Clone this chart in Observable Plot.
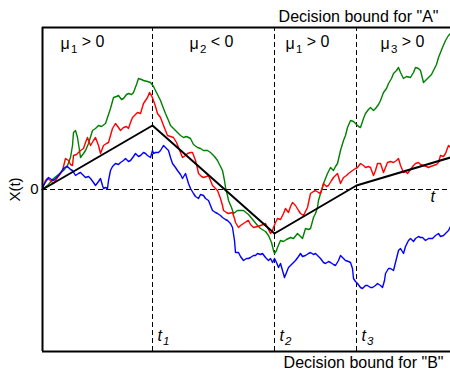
<!DOCTYPE html>
<html>
<head>
<meta charset="utf-8">
<script src="https://cdn.jsdelivr.net/npm/d3@7"></script>
<script src="https://cdn.jsdelivr.net/npm/@observablehq/plot@0.6"></script>
<style>
  html, body { margin: 0; padding: 0; background: #fff; }
  #chart { width: 450px; height: 370px; }
</style>
</head>
<body>
<div id="chart"></div>
<script>
// ---- data (time in arbitrary units, X(t) in arbitrary units) ----
const greenT = [0,2,6,11,16,21,25,28,30,31,33,35,37,38,41,43,46,50,53,56,59,63,66,68,71,74,76,79,81,84,86,89,91,94,96,99,101,105,108,111,113,116,118,121,123,126,128,131,135,138,141,144,148,151,155,158,161,165,168,172,175,178,180,182,183,185,186,189,191,195,201,206,211,215,218,223,226,229,231,232,234,235,238,241,244,248,251,255,258,260,263,266,268,271,273,275,276,278,280,281,283,285,288,291,293,295,298,301,303,305,308,311,313,316,318,321,323,326,328,331,333,336,338,341,344,346,349,351,354,356,358,361,364,368,371,373,376,378,380,381,384,386,389,391,394,396,398,400,403,406,408];
const greenX = [0,2,5,11,15,19,24,32,44,57,59,52,39,32,36,39,46,59,61,64,63,66,75,81,92,93,94,90,91,95,96,95,97,105,111,110,109,108,107,103,99,93,89,81,76,69,64,61,57,54,52,53,51,45,42,41,39,39,37,33,29,23,19,9,2,-6,-11,-18,-24,-21,-21,-25,-31,-36,-39,-42,-46,-53,-61,-64,-61,-58,-51,-52,-50,-48,-49,-44,-47,-49,-39,-40,-39,-28,-24,-18,-11,-4,2,6,11,16,22,19,23,26,39,49,54,62,69,68,66,63,62,71,76,80,82,79,81,85,89,97,101,106,111,116,119,122,117,111,113,112,117,122,121,119,111,107,110,112,115,119,125,132,137,142,149,154,156];

const redT = [0,1,3,5,8,11,13,15,18,20,22,23,26,28,30,31,34,36,38,41,43,45,48,51,53,56,58,61,64,66,68,70,73,76,78,81,84,86,88,90,93,95,98,101,103,105,107,109,111,113,115,118,121,123,125,128,131,134,136,138,140,143,145,148,150,153,155,156,159,161,164,166,168,170,173,175,178,180,181,184,186,190,192,193,196,198,201,204,206,208,211,215,218,221,223,226,228,230,231,233,235,238,241,243,246,248,250,253,256,258,261,263,265,268,271,273,276,278,281,284,286,289,291,295,298,301,304,306,310,313,315,318,321,323,326,328,331,333,335,338,341,343,345,348,351,354,356,358,361,363,365,368,371,373,376,378,381,384,386,388,391,394,396,398,401,403,406,408];
const redX = [0,4,9,11,9,6,9,12,16,19,27,31,29,25,24,34,35,37,39,41,47,52,44,49,52,44,36,44,46,47,54,61,66,62,59,62,63,61,67,72,75,77,76,86,89,92,97,94,89,83,76,72,64,59,54,53,52,47,42,37,32,34,36,37,37,29,21,16,13,12,13,14,9,4,1,-1,-9,-16,-21,-23,-24,-23,-29,-33,-38,-36,-34,-32,-31,-35,-38,-37,-36,-35,-34,-40,-44,-41,-38,-33,-29,-30,-24,-19,-23,-17,-13,-16,-21,-24,-26,-22,-18,-4,-2,-1,-3,-4,6,3,4,9,12,16,6,12,14,16,19,21,22,26,24,22,23,22,14,19,26,26,17,22,27,28,27,29,31,24,17,18,16,20,24,26,27,25,24,23,22,23,24,25,27,34,33,36,44,42];

const blueT = [0,1,4,6,9,11,14,16,19,21,24,26,28,30,33,36,38,41,43,46,48,51,53,56,58,60,61,63,65,66,68,70,73,76,78,81,83,86,88,91,93,96,98,101,103,105,108,110,111,113,116,118,121,123,126,128,130,133,135,138,140,143,146,148,151,153,156,158,161,163,166,168,170,173,175,178,180,183,185,188,190,192,193,196,198,201,204,206,208,211,213,215,218,220,223,226,228,230,232,234,236,238,240,242,244,246,248,251,253,256,258,260,263,266,268,271,273,276,278,281,283,286,288,291,293,296,298,301,303,306,308,310,311,313,315,318,320,323,325,328,330,333,335,338,340,342,343,346,348,351,353,356,358,361,363,366,368,371,373,376,378,380,383,386,388,390,393,396,398,401,404,406,408];
const blueX = [0,4,9,12,10,9,12,14,18,21,23,22,20,19,14,16,17,14,12,13,11,7,4,8,11,4,1,2,1,9,19,23,26,25,27,29,31,28,29,33,36,33,34,37,36,34,32,39,36,37,37,39,44,42,39,32,26,22,19,15,11,16,6,1,-4,-7,-9,-5,-6,-9,-11,-16,-21,-23,-24,-26,-28,-30,-31,-34,-38,-51,-63,-63,-67,-71,-69,-69,-68,-66,-66,-64,-65,-64,-68,-71,-69,-73,-69,-73,-78,-74,-81,-88,-83,-78,-76,-73,-71,-67,-64,-67,-66,-64,-63,-65,-64,-67,-69,-73,-74,-72,-73,-75,-76,-71,-66,-69,-71,-72,-73,-79,-89,-92,-94,-98,-99,-96,-96,-98,-98,-96,-94,-96,-98,-91,-84,-79,-79,-81,-73,-61,-59,-64,-57,-51,-49,-52,-49,-47,-48,-48,-51,-49,-49,-49,-46,-44,-47,-46,-43,-41,-37];

const meanT = [0, 110, 232, 314, 408];
const meanX = [0, 64, -44, 4, 32];

const switchT = [110, 232, 314];
const switchLabels = ["t_1", "t_2", "t_3"];
const muLabels = ["μ_1 > 0", "μ_2 < 0", "μ_1 > 0", "μ_3 > 0"];
const muLabelT = [40, 169, 265, 360];
const boundA = 162, boundB = -162;
const yTicks = [0];
const topLabel = 'Decision bound for "A"';
const bottomLabel = 'Decision bound for "B"';

// ---- build tables ----
const zip = (T, X) => T.map((t, i) => ({t, x: X[i]}));
const green = zip(greenT, greenX);
const red = zip(redT, redX);
const blue = zip(blueT, blueX);
const mean = zip(meanT, meanX);
const muData = muLabels.map((s, i) => ({t: muLabelT[i], s}));
const swData = switchT.map((t, i) => ({t, s: switchLabels[i]}));

const FONT = '"Liberation Sans", Arial, Helvetica, sans-serif';
const dash = "5,3";

const plot = Plot.plot({
  width: 450,
  height: 370,
  marginLeft: 42,
  marginRight: 0,
  marginTop: 27,
  marginBottom: 19,
  style: {fontFamily: FONT, background: "#fff", overflow: "visible", color: "#000"},
  x: {domain: [0, 408], axis: null},
  y: {domain: [boundB, boundA], axis: null},
  marks: [
    Plot.ruleY([0], {stroke: "#000", strokeWidth: 1, strokeDasharray: dash, shapeRendering: "crispEdges"}),
    Plot.ruleX(switchT, {x: d => d, y1: boundB, y2: boundA, stroke: "#000", strokeWidth: 1, strokeDasharray: dash, shapeRendering: "crispEdges"}),
    Plot.line(green, {x: "t", y: "x", stroke: "#008000", strokeWidth: 1.4}),
    Plot.line(red, {x: "t", y: "x", stroke: "#ff0000", strokeWidth: 1.4}),
    Plot.line(blue, {x: "t", y: "x", stroke: "#0000ff", strokeWidth: 1.4}),
    Plot.line(mean, {x: "t", y: "x", stroke: "#000", strokeWidth: 2}),
    Plot.ruleY([boundB, boundA], {stroke: "#000", strokeWidth: 2}),
    Plot.ruleX([0], {y1: boundB, y2: boundA, stroke: "#000", strokeWidth: 2}),
    Plot.axisY({ticks: yTicks, tickSize: 0, tickPadding: 4, fontSize: 15,
      label: "X(t)", labelAnchor: "center", labelArrow: "none", labelOffset: 33}),
    Plot.text(muData, {x: "t", y: boundA, text: "s", fontSize: 16, textAnchor: "middle", lineAnchor: "bottom", dy: 21}),
    Plot.text(swData, {x: "t", y: boundB, text: "s", fontSize: 16, fontStyle: "italic", textAnchor: "start", lineAnchor: "bottom", dx: 5, dy: -11}),
    Plot.text(["t"], {x: 388, y: 0, text: d => d, fontSize: 16, fontStyle: "italic", textAnchor: "start", lineAnchor: "bottom", dy: 12}),
    Plot.text([topLabel], {frameAnchor: "top-right", text: d => d, fontSize: 16, textAnchor: "end", lineAnchor: "bottom", dx: -12, dy: -6}),
    Plot.text([bottomLabel], {frameAnchor: "bottom-right", text: d => d, fontSize: 16, textAnchor: "end", lineAnchor: "bottom", dx: -7, dy: 16})
  ]
});

// subscripts: turn "a_b rest" into tspans
d3.select(plot).selectAll("text").each(function() {
  const s = this.textContent;
  const i = s.indexOf("_");
  if (i < 0) return;
  const head = s.slice(0, i), sub = s.slice(i + 1, i + 2), rest = s.slice(i + 2);
  const el = d3.select(this);
  el.text(null);
  el.append("tspan").text(head);
  el.append("tspan").attr("dx", "0.1em").attr("dy", "0.35em").attr("font-size", "0.72em").text(sub);
  if (rest) el.append("tspan").attr("dy", "-0.35em").text(rest);
});

document.getElementById("chart").appendChild(plot);
</script>
</body>
</html>
